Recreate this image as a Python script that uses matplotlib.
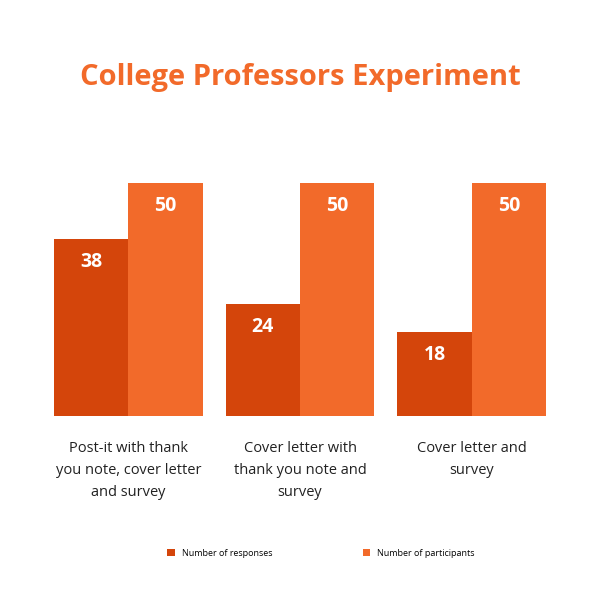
import matplotlib
matplotlib.use("Agg")
import matplotlib.pyplot as plt
import numpy as np

categories = ["Post-it with thank\nyou note, cover letter\nand survey",
              "Cover letter with\nthank you note and\nsurvey",
              "Cover letter and\nsurvey"]
responses = [38, 24, 18]
participants = [50, 50, 50]
series_names = ["Number of responses", "Number of participants"]
dark, light = "#D4450B", "#F26A2A"

fig = plt.figure(figsize=(6, 6), dpi=100)
ax = fig.add_axes([0.09, 0.307, 0.82, 0.388])
x = np.arange(len(categories))
w = 0.433
b1 = ax.bar(x - w/2, responses, w, color=dark, label=series_names[0])
b2 = ax.bar(x + w/2, participants, w, color=light, label=series_names[1])
for bars, vals in ((b1, responses), (b2, participants)):
    for r, v in zip(bars, vals):
        ax.text(r.get_x() + r.get_width()/2, v - 5, str(v), ha="center", va="center",
                color="white", fontsize=14, fontweight="bold", family="Open Sans")
ax.set_xlim(-w, 2 + w)
ax.set_ylim(0, 50)
ax.axis("off")
for xi, c in zip(x, categories):
    ax.text(xi, -5.5, c, ha="center", va="top", fontsize=10.5, color="#222222",
            linespacing=1.6, family="Open Sans")
fig.text(0.5, 0.87, "College Professors Experiment", ha="center", va="center",
         color="#F26A2A", fontsize=21, fontweight="bold", family="Open Sans")
fig.legend(handles=[b1, b2], labels=series_names, loc="center", bbox_to_anchor=(0.535, 0.078),
           ncol=2, frameon=False, handlelength=0.8, handleheight=0.8,
           columnspacing=10, prop={"family": "Open Sans", "size": 6.5})
fig.savefig("out.png", dpi=100, facecolor="white")
